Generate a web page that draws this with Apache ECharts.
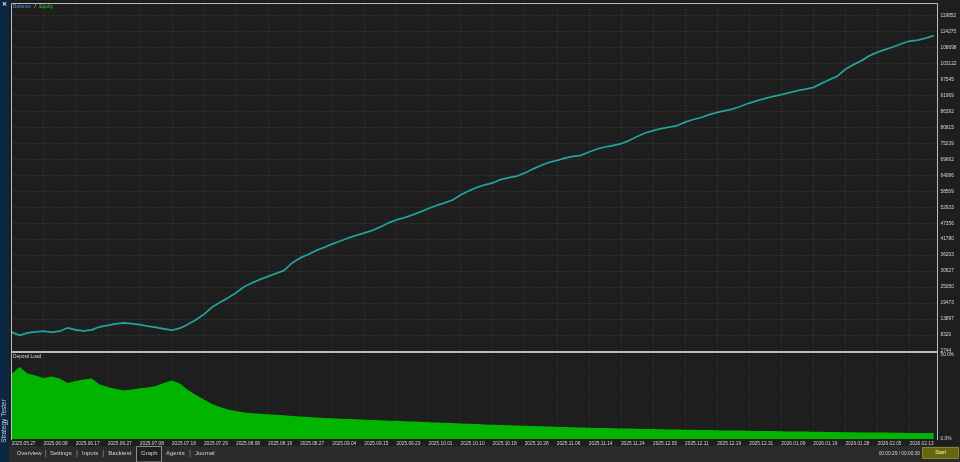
<!DOCTYPE html>
<html><head><meta charset="utf-8">
<script src="https://cdn.jsdelivr.net/npm/echarts@6/dist/echarts.min.js"></script>
<style>html,body{margin:0;padding:0;background:#1e1e1e;overflow:hidden}#c{width:960px;height:462px;}</style>
</head><body><div id="c"></div>
<script>
// ---- data ----
const xLabels = ['2025.05.27','2025.06.08','2025.06.17','2025.06.27','2025.07.08','2025.07.18','2025.07.29','2025.08.08','2025.08.19','2025.08.27','2025.09.04','2025.09.15','2025.09.23','2025.10.01','2025.10.10','2025.10.18','2025.10.28','2025.11.06','2025.11.14','2025.11.24','2025.12.03','2025.12.11','2025.12.19','2025.12.31','2026.01.09','2026.01.19','2026.01.28','2026.02.05','2026.02.13'];
const yTickLabels = ['2744','8320','13897','19473','25050','30627','36203','41780','47356','52933','58509','64086','69662','75239','80815','86392','91969','97545','103122','108698','114275','119852'];
const loadTickLabels = ['0.0%','50.0%'];
const balance = [9471, 8321, 9192, 9541, 9715, 9436, 9715, 10935, 10238, 9819,
 10238, 11283, 11806, 12329, 12677, 12399, 12050, 11527, 11109, 10586,
 10063, 10760, 12155, 13723, 15640, 18080, 19822, 21391, 23134, 25225,
 26619, 27839, 28885, 29930, 30976, 33590, 35332, 36552, 37947, 38992,
 40212, 41258, 42303, 43175, 44046, 44917, 46137, 47531, 48577, 49379,
 50320, 51365, 52585, 53631, 54502, 55548, 57291, 58685, 59905, 60776,
 61473, 62693, 63320, 63808, 64958, 66353, 67572, 68618, 69315, 70187,
 70709, 71127, 72278, 73323, 74020, 74543, 75171, 76285, 77680, 78900,
 79771, 80469, 80991, 81514, 82734, 83605, 84302, 85348, 86115, 86742,
 87335, 88311, 89356, 90228, 90994, 91691, 92319, 93016, 93713, 94236,
 94828, 96222, 97547, 98766, 101207, 102775, 104169, 105912, 107132, 108073,
 109049, 110094, 111035, 111314, 112011, 112883];
const equity = [9300, 8150, 9050, 9400, 9600, 9300, 9600, 10800, 10100, 9700,
 10100, 11150, 11650, 12200, 12550, 12250, 11900, 11400, 10950, 10450,
 9950, 10650, 12050, 13600, 15500, 17950, 19700, 21250, 23000, 25100,
 26500, 27700, 28750, 29800, 30850, 33450, 35200, 36400, 37800, 38850,
 40100, 41100, 42150, 43050, 43900, 44800, 46000, 47400, 48450, 49250,
 50200, 51250, 52450, 53500, 54400, 55400, 57150, 58550, 59800, 60650,
 61350, 62550, 63200, 63700, 64850, 66200, 67450, 68500, 69200, 70050,
 70600, 71000, 72150, 73200, 73900, 74400, 75050, 76150, 77550, 78800,
 79650, 80350, 80850, 81400, 82600, 83500, 84200, 85200, 86000, 86600,
 87200, 88200, 89250, 90100, 90850, 91550, 92200, 92900, 93600, 94100,
 94700, 96100, 97400, 98650, 101050, 102650, 104050, 105800, 107000, 107950,
 108900, 109950, 110900, 111200, 111900, 112750];
const depositLoad = [38.7, 42.9, 39.0, 37.8, 36.3, 37.2, 36.0, 33.3, 34.5, 35.4,
 36.0, 32.4, 31.0, 29.8, 28.9, 29.5, 30.2, 30.7, 31.5, 33.3,
 34.8, 33.0, 29.2, 26.2, 23.5, 20.8, 19.0, 17.6, 16.7, 15.8,
 15.4, 15.0, 14.7, 14.4, 14.1, 13.7, 13.4, 13.1, 12.8, 12.5,
 12.3, 12.1, 11.9, 11.7, 11.5, 11.3, 11.1, 10.9, 10.8, 10.6,
 10.4, 10.2, 10.0, 9.8, 9.6, 9.5, 9.3, 9.1, 8.9, 8.7,
 8.5, 8.3, 8.2, 8.0, 7.9, 7.8, 7.6, 7.5, 7.3, 7.2,
 7.0, 6.9, 6.7, 6.6, 6.5, 6.4, 6.3, 6.2, 6.1, 6.0,
 5.9, 5.8, 5.7, 5.6, 5.5, 5.5, 5.4, 5.3, 5.2, 5.1,
 5.0, 5.0, 4.9, 4.8, 4.7, 4.7, 4.6, 4.5, 4.5, 4.4,
 4.3, 4.3, 4.2, 4.1, 4.0, 4.0, 3.9, 3.9, 3.8, 3.8,
 3.7, 3.7, 3.6, 3.6, 3.5, 3.5];
const tabs = ['Overview','Settings','Inputs','Backtest','Graph','Agents','Journal'];
const timerText = '00:00:29 / 00:00:30';

// ---- scales ----
const PTS_PER_LABEL = 4;
const yMin = Number(yTickLabels[0]);
const yStep = (Number(yTickLabels[yTickLabels.length-1]) - yMin) / (yTickLabels.length - 1);
const yMax = yMin + yStep * 21.75;
const xMax = 28.87;
const toXY = arr => arr.map((v, i) => [i / PTS_PER_LABEL, v]);

const FONT = '"Liberation Sans", Arial, sans-serif';
const gridLine = { show: true, lineStyle: { color: '#3d3d3d', type: [1, 2], width: 1 } };
const xFmt = v => { const i = Math.round(v); return (Math.abs(v - i) < 1e-6 && xLabels[i]) ? xLabels[i] : ''; };
const yFmt = v => { const i = Math.round((v - yMin) / yStep); return (Math.abs(v - (yMin + i * yStep)) < yStep * 0.01 && yTickLabels[i]) ? yTickLabels[i] : ''; };

const chart = echarts.init(document.getElementById('c'), null, { renderer: 'canvas' });

const tabPos = [16.7, 50, 82, 108.3, 141, 166, 195];
const sepPos = [45.7, 77, 103.3, 190];
const graphics = [
  { type: 'rect', shape: { x: 0, y: 0, width: 9, height: 462 }, style: { fill: '#0c2744' }, z: 100 },
  { type: 'rect', shape: { x: 9, y: 446, width: 951, height: 16 }, style: { fill: '#2b2b2b' }, z: 100 },
  { type: 'text', x: 4.5, y: 4.5, style: { text: '✕', fill: '#e8eef6', font: 'bold 6px ' + FONT, align: 'center', verticalAlign: 'middle' }, z: 101 },
  { type: 'text', x: 4.5, y: 421, rotation: Math.PI / 2, style: { text: 'Strategy Tester', fill: '#c9d3e0', font: '6.5px ' + FONT, align: 'center', verticalAlign: 'middle' }, z: 101 },
  { type: 'rect', shape: { x: 11.5, y: 3.5, width: 926, height: 348 }, style: { fill: null, stroke: '#bcbcbc', lineWidth: 1 }, z: 90 },
  { type: 'line', shape: { x1: 11.5, y1: 351, x2: 11.5, y2: 440 }, style: { stroke: '#bcbcbc', lineWidth: 1 }, z: 90 },
  { type: 'line', shape: { x1: 937.5, y1: 351, x2: 937.5, y2: 440 }, style: { stroke: '#bcbcbc', lineWidth: 1 }, z: 90 },
  { type: 'line', shape: { x1: 11, y1: 352, x2: 938, y2: 352 }, style: { stroke: '#bcbcbc', lineWidth: 2 }, z: 90 },
  { type: 'text', x: 13, y: 6.5, style: { rich: { b: { fill: '#3a8ed8', font: '5px ' + FONT }, s: { fill: '#dcdcdc', font: '5px ' + FONT }, e: { fill: '#2ec42e', font: '5px ' + FONT } }, text: '{b|Balance} {s|/} {e|Equity}', verticalAlign: 'middle' }, z: 101 },
  { type: 'text', x: 13, y: 357, style: { text: 'Deposit Load', fill: '#d8d8d8', font: '4.8px ' + FONT, verticalAlign: 'middle' }, z: 101 },
  { type: 'rect', shape: { x: 136.5, y: 446.5, width: 25, height: 15.5 }, style: { fill: '#1f1f1f', stroke: '#8c8c8c', lineWidth: 1 }, z: 101 },
  { type: 'text', x: 920, y: 453.5, style: { text: timerText, fill: '#d0d0d0', font: '4.8px ' + FONT, align: 'right', verticalAlign: 'middle' }, z: 101 },
  { type: 'rect', shape: { x: 922.5, y: 447.5, width: 36, height: 11 }, style: { fill: '#66660f', stroke: '#85852a', lineWidth: 1 }, z: 101 },
  { type: 'text', x: 940.5, y: 453, style: { text: 'Start', fill: '#f2f2d8', font: '5px ' + FONT, align: 'center', verticalAlign: 'middle' }, z: 102 }
];
tabs.forEach((t, i) => {
  graphics.push({ type: 'text', x: tabPos[i], y: 453.5, style: { text: t, fill: '#d2d2d2', font: '6px ' + FONT, verticalAlign: 'middle' }, z: 102 });
});
sepPos.forEach(p => graphics.push({ type: 'line', shape: { x1: p, y1: 450, x2: p, y2: 457 }, style: { stroke: '#6e6e6e', lineWidth: 1 }, z: 102 }));

chart.setOption({
  animation: false,
  backgroundColor: '#1e1e1e',
  textStyle: { fontFamily: FONT },
  grid: [
    { left: 11.5, width: 926, top: 3.5, height: 347.5 },
    { left: 11.5, width: 926, top: 355, height: 84 }
  ],
  xAxis: [
    { type: 'value', gridIndex: 0, min: 0, max: xMax, interval: 1, axisLine: { show: false }, axisTick: { show: false }, axisLabel: { show: false }, splitLine: gridLine },
    { type: 'value', gridIndex: 1, min: 0, max: xMax, interval: 1, axisLine: { show: false }, axisTick: { show: false }, splitLine: gridLine,
      axisLabel: { formatter: xFmt, fontSize: 4.8, color: '#d6d6d6', align: 'left', margin: 1.8, showMaxLabel: false } }
  ],
  yAxis: [
    { type: 'value', gridIndex: 0, position: 'right', min: yMin, max: yMax, interval: yStep, axisLine: { show: false }, axisTick: { show: false }, splitLine: gridLine,
      axisLabel: { formatter: yFmt, fontSize: 4.8, color: '#d6d6d6', margin: 3, showMaxLabel: false } },
    { type: 'value', gridIndex: 1, position: 'right', min: 0, max: 50, interval: 50, axisLine: { show: false }, axisTick: { show: false }, splitLine: { show: false },
      axisLabel: { formatter: v => v === 0 ? loadTickLabels[0] : (v === 50 ? loadTickLabels[1] : ''), fontSize: 4.8, color: '#d6d6d6', margin: 3 } }
  ],
  series: [
    { name: 'Equity', type: 'line', xAxisIndex: 0, yAxisIndex: 0, data: toXY(equity), symbol: 'none', lineStyle: { color: '#26b84c', width: 1.5 }, z: 3 },
    { name: 'Balance', type: 'line', xAxisIndex: 0, yAxisIndex: 0, data: toXY(balance), symbol: 'none', lineStyle: { color: '#1e90ff', width: 1.4, opacity: 0.55 }, z: 4 },
    { name: 'Deposit Load', type: 'line', xAxisIndex: 1, yAxisIndex: 1, data: toXY(depositLoad), symbol: 'none', lineStyle: { width: 0 }, areaStyle: { color: '#00b400', opacity: 1 }, z: 3 }
  ],
  graphic: graphics
});
</script>
</body></html>
